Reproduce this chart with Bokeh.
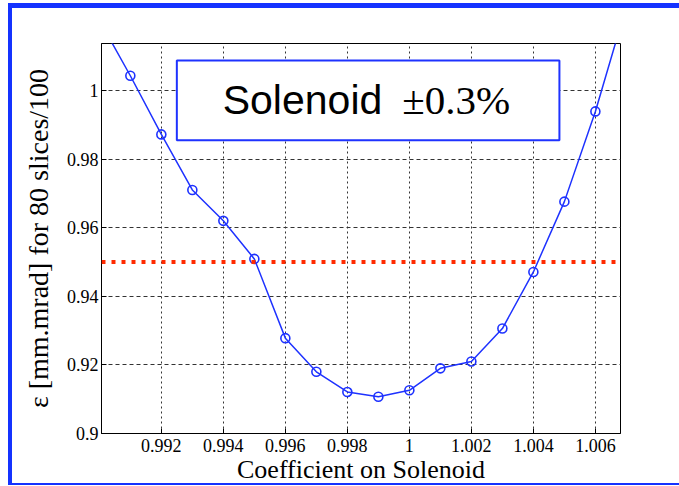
from bokeh.plotting import figure
from bokeh.models import Range1d, FixedTicker, Span, BoxAnnotation, Label
from bokeh.embed import file_html
from bokeh.resources import INLINE

# ---- data ----
coef = [0.990, 0.991, 0.992, 0.993, 0.994, 0.995, 0.996, 0.997, 0.998,
        0.999, 1.000, 1.001, 1.002, 1.003, 1.004, 1.005, 1.006, 1.007]
emittance = [1.0205, 1.0043, 0.9872, 0.9710, 0.9620, 0.9509, 0.9278, 0.9180, 0.9121,
             0.9107, 0.9126, 0.9190, 0.9210, 0.9306, 0.9471, 0.9676, 0.9939, 1.0246]
marker_coef = coef[1:-1]
marker_emittance = emittance[1:-1]

threshold = 0.95

x_ticks = [0.992, 0.994, 0.996, 0.998, 1.0, 1.002, 1.004, 1.006]
x_tick_labels = ["0.992", "0.994", "0.996", "0.998", "1", "1.002", "1.004", "1.006"]
y_ticks = [0.9, 0.92, 0.94, 0.96, 0.98, 1.0]
y_tick_labels = ["0.9", "0.92", "0.94", "0.96", "0.98", "1"]

title_word = "Solenoid"
title_range = "±0.3%"
x_label = "Coefficient on Solenoid"
y_label = "ε [mm.mrad] for 80 slices/100"

BLUE = "#1e32ff"
FRAME_BLUE = "#1432ff"
SERIF = "Liberation Serif"

p = figure(width=679, height=486, output_backend="svg", toolbar_location=None,
           x_range=Range1d(0.99007, 1.00681), y_range=Range1d(0.9, 1.0137),
           min_border_left=101, min_border_right=59, min_border_top=43, min_border_bottom=53)

p.border_fill_color = None
p.background_fill_color = "white"
p.outline_line_color = "black"
p.outline_line_width = 1
p.styles = {
    "background": (f"linear-gradient({FRAME_BLUE},{FRAME_BLUE}) 8px 3px/4px 482px no-repeat, "
                   f"linear-gradient({FRAME_BLUE},{FRAME_BLUE}) 8px 3px/671px 5px no-repeat, "
                   f"linear-gradient({FRAME_BLUE},{FRAME_BLUE}) 8px 483px/671px 2px no-repeat, white")
}

# axes
p.xaxis.ticker = FixedTicker(ticks=x_ticks, minor_ticks=[])
p.yaxis.ticker = FixedTicker(ticks=y_ticks, minor_ticks=[])
p.xaxis.major_label_overrides = dict(zip(x_ticks, x_tick_labels))
p.yaxis.major_label_overrides = dict(zip(y_ticks, y_tick_labels))
for ax in (p.xaxis[0], p.yaxis[0]):
    ax.major_tick_in = 5
    ax.major_tick_out = 0
    ax.minor_tick_line_color = None
    ax.axis_line_color = "black"
    ax.major_tick_line_color = "black"
    ax.major_label_text_font = SERIF
    ax.major_label_text_font_size = "18px"
    ax.major_label_text_color = "black"
    ax.axis_label_text_font = SERIF
    ax.axis_label_text_font_style = "normal"
    ax.axis_label_text_color = "black"
p.xaxis.major_label_standoff = 5
p.yaxis.major_label_standoff = 3
p.xaxis.axis_label = x_label
p.yaxis.axis_label = y_label
p.xaxis.axis_label_text_font_size = "26px"
p.yaxis.axis_label_text_font_size = "28px"
p.xaxis.axis_label_standoff = 0
p.yaxis.axis_label_standoff = 10

# grid
p.xgrid.ticker = FixedTicker(ticks=x_ticks)
p.ygrid.ticker = FixedTicker(ticks=y_ticks)
p.xgrid.grid_line_color = "#333333"
p.xgrid.grid_line_dash = "2 3"
p.ygrid.grid_line_color = "#333333"
p.ygrid.grid_line_dash = "4 3"

# threshold line
p.add_layout(Span(location=threshold, dimension="width", line_color="#ff2a00",
                  line_width=4, line_dash="4 6"))

# curve
p.line(coef, emittance, line_color=BLUE, line_width=1.5)
p.scatter(marker_coef, marker_emittance, marker="circle", size=9, fill_color=None,
          line_color=BLUE, line_width=1.6)

# title box
p.add_layout(BoxAnnotation(left=0.99250, right=1.00484, top=1.00874, bottom=0.98547,
                           fill_color="white", fill_alpha=1.0,
                           line_color=BLUE, line_width=2, line_alpha=1.0))
p.add_layout(Label(x=0.99398, y=0.99715, text=title_word, text_font="Liberation Sans",
                   text_font_size="41px", text_baseline="alphabetic", text_color="black"))
p.add_layout(Label(x=0.99977, y=0.99715, text=title_range, text_font=SERIF,
                   text_font_size="41px", text_baseline="alphabetic", text_color="black"))

open("out.html", "w").write(file_html(p, INLINE))
